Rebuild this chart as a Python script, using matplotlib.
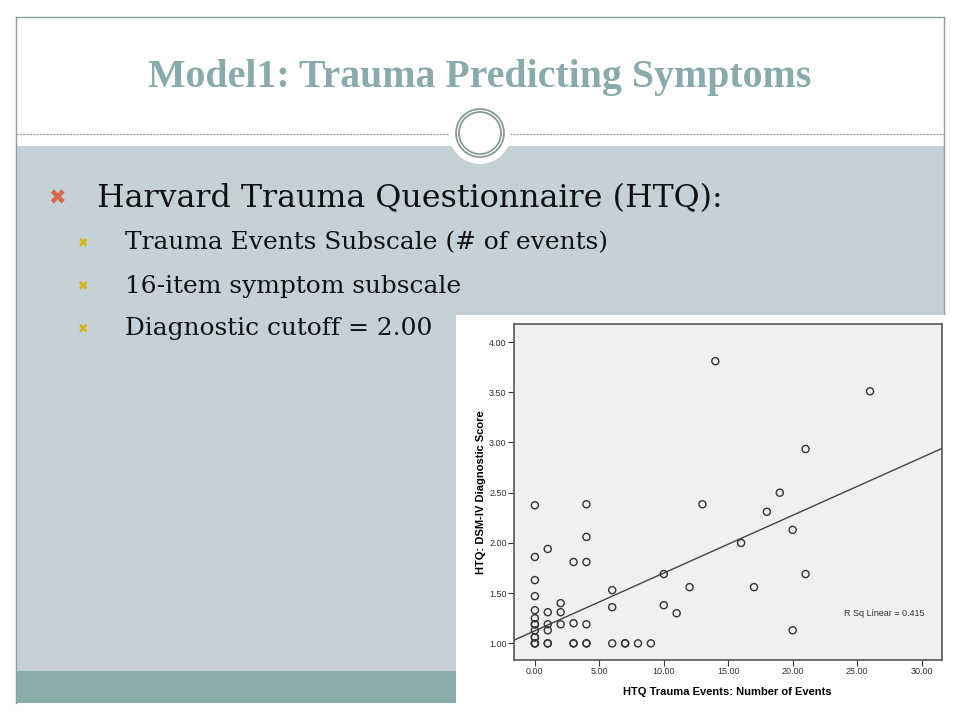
"""
Slide: Model1 - trauma events predicting HTQ symptom score (scatter + linear fit).
"""
import matplotlib
matplotlib.use("Agg")
import matplotlib.pyplot as plt
from matplotlib.patches import Rectangle, Circle

# data
trauma_events = [0, 0, 0, 0, 0, 0, 0, 0, 0, 0, 0, 0, 0, 0,
                 1, 1, 1, 1, 1, 1,
                 2, 2, 2,
                 3, 3, 3, 3,
                 4, 4, 4, 4, 4, 4,
                 6, 6, 6,
                 7, 7, 8, 9,
                 10, 10, 11, 12, 13, 14, 16, 17, 18, 19,
                 20, 20, 21, 21, 26]
symptom_score = [2.375, 1.86, 1.63, 1.47, 1.33, 1.25, 1.19, 1.19, 1.13, 1.06, 1.06, 1.00, 1.00, 1.00,
                 1.94, 1.31, 1.19, 1.13, 1.00, 1.00,
                 1.40, 1.31, 1.19,
                 1.81, 1.20, 1.00, 1.00,
                 2.385, 2.06, 1.81, 1.19, 1.00, 1.00,
                 1.53, 1.36, 1.00,
                 1.00, 1.00, 1.00, 1.00,
                 1.69, 1.38, 1.30, 1.56, 2.385, 3.81, 2.00, 1.56, 2.31, 2.50,
                 2.13, 1.13, 2.935, 1.69, 3.51]
fit_intercept = 1.125
fit_slope = 0.0575
r_sq = 0.415

x_ticks = [0, 5, 10, 15, 20, 25, 30]
y_ticks = [1.0, 1.5, 2.0, 2.5, 3.0, 3.5, 4.0]

title = "Model1: Trauma Predicting Symptoms"
main_bullet = "Harvard Trauma Questionnaire (HTQ):"
sub_bullets = ["Trauma Events Subscale (# of events)",
               "16-item symptom subscale",
               "Diagnostic cutoff = 2.00"]

fig = plt.figure(figsize=(9.6, 7.2), dpi=100)

# background axes in pixel coordinates for the slide decoration
bg = fig.add_axes([0, 0, 1, 1])
bg.set_xlim(0, 960)
bg.set_ylim(720, 0)
bg.axis("off")

frame_col = "#8e9e9e"
bg.add_patch(Rectangle((16, 146), 928, 525, facecolor="#c5d1d7", edgecolor="none"))
bg.add_patch(Rectangle((16, 671), 928, 32, facecolor="#8aacac", edgecolor="none"))
bg.plot([16, 944], [17, 17], color=frame_col, lw=1)
bg.plot([16, 16], [17, 703], color=frame_col, lw=1)
bg.plot([944, 944], [17, 315], color=frame_col, lw=1)
bg.plot([16, 944], [134, 134], color=frame_col, lw=0.8, ls=(0, (2, 1)))

# circle ornament
bg.add_patch(Circle((480, 133), 31, facecolor="white", edgecolor="none", zorder=3))
bg.add_patch(Circle((480, 133), 24, facecolor="none", edgecolor="#8a9a9a", lw=1.3, zorder=4))
bg.add_patch(Circle((480, 133), 21, facecolor="none", edgecolor="#8a9a9a", lw=1.3, zorder=4))

bg.text(480, 78, title, ha="center", va="center", fontsize=28.7, fontweight="bold",
        family="Liberation Serif", color="#8aabab")

# bullets
bg.text(57, 199, "\u2716", ha="center", va="center", fontsize=15, color="#d9694c",
        family="DejaVu Sans")
bg.text(97, 199, main_bullet, ha="left", va="center", fontsize=22.9,
        family="DejaVu Serif", color="#111111")
for i, txt in enumerate(sub_bullets):
    yy = 243 + i * 43
    bg.text(83, yy, "\u2716", ha="center", va="center", fontsize=9, color="#d4b50f",
            family="DejaVu Sans")
    bg.text(125, yy, txt, ha="left", va="center", fontsize=17.9,
            family="DejaVu Serif", color="#111111")

# white panel of the pasted chart
bg.add_patch(Rectangle((456, 315), 504, 405, facecolor="white", edgecolor="none", zorder=5))

# scatter chart
ax = fig.add_axes([0.535, 0.0833, 0.4458, 0.4663])
ax.set_facecolor("#f0f0f0")
ax.scatter(trauma_events, symptom_score, s=26, facecolors="none",
           edgecolors="#333333", linewidths=1.0, zorder=3)
xl = (-1.65, 31.55)
ax.plot(xl, [fit_intercept + fit_slope * v for v in xl], color="#444444", lw=1.0, zorder=2)
ax.set_xlim(*xl)
ax.set_ylim(0.834, 4.177)
ax.set_xticks(x_ticks)
ax.set_xticklabels([f"{v:.2f}" for v in x_ticks])
ax.set_yticks(y_ticks)
ax.set_yticklabels([f"{v:.2f}" for v in y_ticks])
ax.tick_params(length=4, width=0.8, color="#333333", labelsize=6.5,
               labelcolor="#333333", pad=1)
for lab in ax.get_xticklabels() + ax.get_yticklabels():
    lab.set_family("Liberation Sans")
for sp in ax.spines.values():
    sp.set_color("#555555")
    sp.set_linewidth(1.2)
ax.set_xlabel("HTQ Trauma Events: Number of Events", fontsize=8, fontweight="bold",
              family="Liberation Sans", labelpad=8)
ax.set_ylabel("HTQ: DSM-IV Diagnostic Score", fontsize=8, fontweight="bold",
              family="Liberation Sans", labelpad=2)
ax.text(0.959, 0.14, f"R Sq Linear = {r_sq}", transform=ax.transAxes, ha="right",
        va="center", fontsize=6.5, family="Liberation Sans", color="#333333")

fig.savefig("out.png", dpi=100, facecolor="white")
